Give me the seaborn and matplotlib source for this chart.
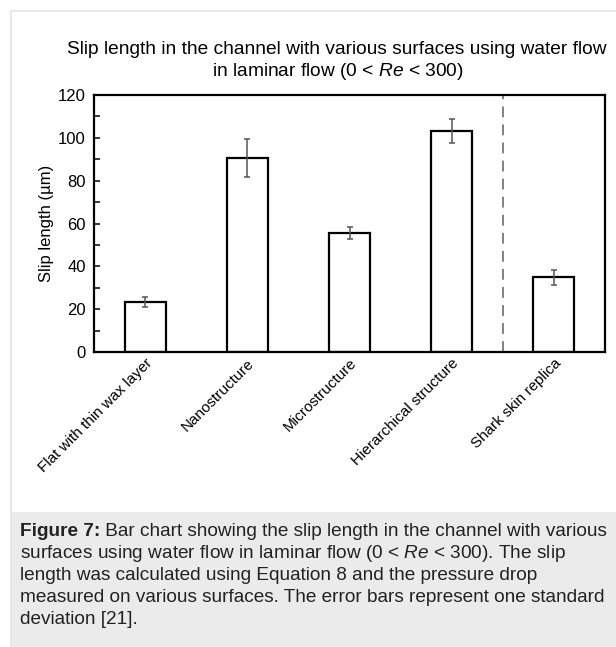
import matplotlib
matplotlib.use("Agg")
import matplotlib.pyplot as plt
from matplotlib.patches import Rectangle
from matplotlib.lines import Line2D
from matplotlib.ticker import MultipleLocator
import numpy as np
import pandas as pd
import seaborn as sns

# Slip length per surface type (mean and one standard deviation, in µm)
surfaces = ["Flat with thin wax layer", "Nanostructure", "Microstructure",
            "Hierarchical structure", "Shark skin replica"]
slip_length = [23.5, 90.5, 55.5, 103.0, 35.0]
slip_std = [2.4, 8.9, 2.8, 5.6, 3.5]
y_ticks = [0, 20, 40, 60, 80, 100, 120]

sns.set_theme(style="white")
plt.rcParams["font.family"] = ["Liberation Sans", "DejaVu Sans"]
plt.rcParams["mathtext.fontset"] = "custom"
plt.rcParams["mathtext.rm"] = "Liberation Sans"
plt.rcParams["mathtext.it"] = "Liberation Sans:italic"
plt.rcParams["mathtext.bf"] = "Liberation Sans:bold"

W, H = 616, 647
fig = plt.figure(figsize=(W / 100, H / 100), dpi=100)
fig.patch.set_facecolor("white")

# page frame and caption panel
fig.add_artist(Line2D([11 / W, 1.0], [1 - 11 / H, 1 - 11 / H], transform=fig.transFigure,
                      color="#e3e3e3", lw=1.2))
fig.add_artist(Line2D([11 / W, 11 / W], [0, 1 - 11 / H], transform=fig.transFigure,
                      color="#e3e3e3", lw=1.2))
fig.add_artist(Rectangle((11.5 / W, 0), 1 - 11.5 / W, (H - 512) / H, transform=fig.transFigure,
                         facecolor="#ebebeb", edgecolor="none"))

ax = fig.add_axes([94 / W, 1 - 352 / H, (605 - 94) / W, (352 - 95) / H])

df = pd.DataFrame({"surface": surfaces, "slip": slip_length})
sns.barplot(data=df, x="surface", y="slip", ax=ax, color="white", edgecolor="black",
            linewidth=1.6, width=0.4, errorbar=None, saturation=1)
for p in ax.patches:
    p.set_facecolor("white")

ax.errorbar(np.arange(len(surfaces)), slip_length, yerr=slip_std, fmt="none",
            ecolor="#555555", elinewidth=1.1, capsize=2.5, capthick=1.1, zorder=5)

# separator between the engineered surfaces and the replica
ax.axvline(3.5, color="#777777", lw=1.3, dashes=(6, 4), zorder=1)

ax.set_xlim(-0.5, len(surfaces) - 0.5)
ax.set_ylim(0, 120)
ax.set_yticks(y_ticks)
ax.yaxis.set_minor_locator(MultipleLocator(10))
ax.tick_params(axis="y", which="both", direction="in", length=4, width=1.1,
               color="black", labelsize=12, pad=6, left=True)
ax.tick_params(axis="x", length=0, labelsize=11, pad=3)
ax.set_xticks(range(len(surfaces)))
ax.set_xticklabels(surfaces, rotation=45, ha="right", rotation_mode="anchor")
for lab in ax.get_yticklabels() + ax.get_xticklabels():
    lab.set_color("black")

for s in ax.spines.values():
    s.set_visible(True)
    s.set_color("black")
    s.set_linewidth(1.6)

ax.set_xlabel("")
ax.set_ylabel("Slip length (µm)", fontsize=12, color="black", labelpad=3)

fig.text(337 / W, 1 - 50 / H, "Slip length in the channel with various surfaces using water flow",
         ha="center", va="center", fontsize=13.8, color="black")
fig.text(338 / W, 1 - 71 / H, r"in laminar flow (0 < $\mathit{Re}$ < 300)",
         ha="center", va="center", fontsize=13.8, color="black")

# caption: bold label followed by the running text
cap_size = 13.7
cap_color = "#222222"
renderer = fig.canvas.get_renderer()
label = fig.text(20 / W, 1 - 531 / H, "Figure 7:", ha="left", va="center",
                 fontsize=cap_size, fontweight="bold", color=cap_color)
lw_px = label.get_window_extent(renderer).width
fig.text((20 + lw_px) / W, 1 - 531 / H,
         " Bar chart showing the slip length in the channel with various",
         ha="left", va="center", fontsize=cap_size, color=cap_color)
caption = [
    r"surfaces using water flow in laminar flow (0 < $\mathit{Re}$ < 300). The slip",
    "length was calculated using Equation 8 and the pressure drop",
    "measured on various surfaces. The error bars represent one standard",
    "deviation [21].",
]
for i, line in enumerate(caption):
    fig.text(20 / W, 1 - (553 + 22 * i) / H, line, ha="left", va="center",
             fontsize=cap_size, color=cap_color)

fig.savefig("out.png", dpi=100)
